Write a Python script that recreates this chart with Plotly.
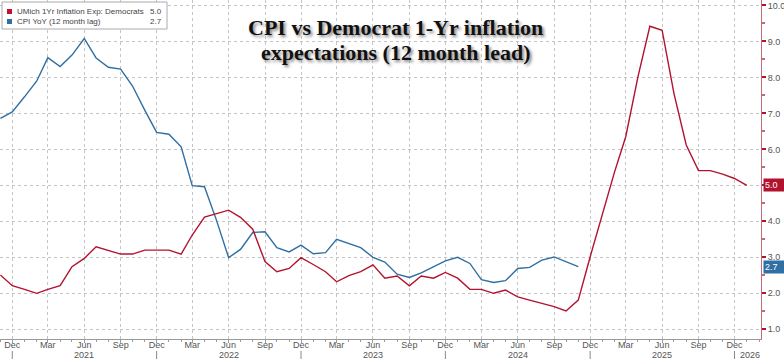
import pandas as pd
import plotly.graph_objects as go

# ---- data ----
red_dates = pd.date_range("2020-11-01", "2026-01-01", freq="MS")
red_vals = [2.51, 2.21,
            2.11, 2.00, 2.11, 2.21, 2.74, 2.97, 3.29, 3.20, 3.09, 3.09, 3.20, 3.20,
            3.20, 3.09, 3.62, 4.12, 4.22, 4.31, 4.11, 3.78, 2.88, 2.60, 2.69, 2.99,
            2.80, 2.60, 2.32, 2.49, 2.60, 2.79, 2.42, 2.48, 2.21, 2.48, 2.42, 2.58,
            2.42, 2.11, 2.11, 2.00, 2.09, 1.90, 1.81, 1.72, 1.63, 1.51, 1.81, 3.01,
            4.22, 5.38, 6.35, 8.02, 9.42, 9.31, 7.55, 6.12, 5.41, 5.41, 5.31, 5.19,
            5.00]
blue_dates = pd.date_range("2020-11-01", "2024-11-01", freq="MS")
blue_vals = [6.86, 7.04,
             7.46, 7.90, 8.55, 8.30, 8.62, 9.08, 8.54, 8.28, 8.23, 7.76, 7.09, 6.47,
             6.42, 6.07, 4.99, 4.96, 4.04, 2.99, 3.22, 3.69, 3.71, 3.27, 3.15, 3.34,
             3.10, 3.13, 3.50, 3.39, 3.27, 3.00, 2.87, 2.53, 2.44, 2.57, 2.74, 2.90,
             3.00, 2.83, 2.38, 2.30, 2.35, 2.69, 2.72, 2.92, 3.01, 2.87, 2.74]

red_name = "UMich 1Yr Inflation Exp: Democrats"
blue_name = "CPI YoY (12 month lag)"
red_last = "5.0"
blue_last = "2.7"

tick_dates = pd.date_range("2020-12-01", "2025-12-01", freq="3MS")
tick_text = [d.strftime("%b") for d in tick_dates]
year_labels = ["2021", "2022", "2023", "2024", "2025"]
year_label_dates = ["2021-06-01", "2022-06-01", "2023-06-01", "2024-06-01", "2025-06-01"]
year_sep_dates = ["2020-12-01", "2021-12-01", "2022-12-01", "2023-12-01", "2024-12-01", "2025-12-01"]
y_ticks = [1, 2, 3, 4, 5, 6, 7, 8, 9, 10]

RED = "#b3122e"
BLUE = "#2f6fa3"
GRID = "#c4c4c4"
TXT = "#555555"
PH = 339.0  # plot height in px
PW = 761.0  # plot width in px

fig = go.Figure()
fig.add_trace(go.Scatter(x=blue_dates, y=blue_vals, mode="lines",
                         line=dict(color=BLUE, width=1.4), name=blue_name))
fig.add_trace(go.Scatter(x=red_dates, y=red_vals, mode="lines",
                         line=dict(color=RED, width=1.4), name=red_name))

fig.update_layout(
    width=784, height=359,
    margin=dict(l=0, r=23, t=0, b=20),
    paper_bgcolor="white", plot_bgcolor="white",
    showlegend=False,
    font=dict(family="Liberation Sans, Arial", size=9, color=TXT),
)
fig.update_xaxes(
    type="date", range=["2020-10-31", "2026-02-06"],
    tickvals=tick_dates, ticktext=tick_text,
    showgrid=True, gridcolor=GRID, griddash="dot", gridwidth=1,
    showline=True, linecolor="#999999", linewidth=1,
    ticks="outside", ticklen=3, tickcolor="#999999",
    minor=dict(ticks="outside", dtick="M1", tick0="2020-12-01", ticklen=2,
               tickcolor="#999999", showgrid=False),
    tickfont=dict(size=9, color=TXT), zeroline=False,
    ticklabelstandoff=-6,
)
fig.update_yaxes(
    side="right", range=[0.73, 10.15],
    tickvals=y_ticks, ticktext=[f"{v:.1f}" for v in y_ticks],
    showgrid=True, gridcolor=GRID, griddash="dot", gridwidth=1,
    showline=True, linecolor="#c46a7a", linewidth=1,
    ticks="outside", ticklen=4, tickwidth=2, tickcolor="#b3122e",
    minor=dict(ticks="outside", dtick=0.5, ticklen=3, tickcolor="#c46a7a", showgrid=False),
    tickfont=dict(size=9, color=TXT), zeroline=False,
)

ann = []
# year labels
for lbl, d in zip(year_labels, year_label_dates):
    ann.append(dict(x=d, xref="x", y=(PH - 355) / PH, yref="paper", text=lbl, showarrow=False,
                    yanchor="middle", font=dict(size=9, color=TXT)))
ann.append(dict(x="2025-12-01", xref="x", y=(PH - 355) / PH, yref="paper", text="2026",
                showarrow=False, xanchor="left", xshift=3, yanchor="middle",
                font=dict(size=9, color=TXT)))
shapes = []
for d in year_sep_dates:
    shapes.append(dict(type="line", xref="x", yref="paper", x0=d, x1=d,
                       y0=(PH - 351) / PH, y1=(PH - 359) / PH,
                       line=dict(color="#888888", width=1)))

# last value tags
ann.append(dict(x=1, xref="paper", y=float(red_last), yref="y", text=red_last, showarrow=False,
                xanchor="left", yanchor="middle", xshift=2, bgcolor=RED,
                font=dict(size=9, color="white"), borderpad=1, width=20, align="left"))
ann.append(dict(x=1, xref="paper", y=blue_vals[-1], yref="y", text=blue_last, showarrow=False,
                xanchor="left", yanchor="middle", xshift=2, bgcolor=BLUE,
                font=dict(size=9, color="white"), borderpad=1, width=20, align="left"))

# legend box
shapes.append(dict(type="rect", xref="paper", yref="paper", x0=2 / PW, x1=167 / PW,
                   y0=1 - 29 / PH, y1=1 - 2 / PH, line=dict(color="#aaaaaa", width=1),
                   fillcolor="white", layer="above"))
shapes.append(dict(type="rect", xref="paper", yref="paper", x0=7 / PW, x1=12 / PW,
                   y0=1 - 14 / PH, y1=1 - 9 / PH, line=dict(width=0), fillcolor="#c8102e",
                   layer="above"))
shapes.append(dict(type="rect", xref="paper", yref="paper", x0=7 / PW, x1=12 / PW,
                   y0=1 - 24 / PH, y1=1 - 19 / PH, line=dict(width=0), fillcolor="#2f6fa3",
                   layer="above"))
leg_font = dict(size=8, color="#444444")
ann.append(dict(x=15 / PW, xref="paper", y=1 - 11.5 / PH, yref="paper", text=red_name,
                showarrow=False, xanchor="left", yanchor="middle", font=leg_font))
ann.append(dict(x=15 / PW, xref="paper", y=1 - 21.5 / PH, yref="paper", text=blue_name,
                showarrow=False, xanchor="left", yanchor="middle", font=leg_font))
ann.append(dict(x=164 / PW, xref="paper", y=1 - 11.5 / PH, yref="paper", text=red_last,
                showarrow=False, xanchor="right", yanchor="middle", font=leg_font))
ann.append(dict(x=164 / PW, xref="paper", y=1 - 21.5 / PH, yref="paper", text=blue_last,
                showarrow=False, xanchor="right", yanchor="middle", font=leg_font))

# title
title_font = dict(family="Liberation Serif, Times New Roman", size=22, color="#111111",
                  weight="bold", shadow="2px 2px 3px #888888")
ann.append(dict(x=395 / PW, xref="paper", y=1 - 27 / PH, yref="paper",
                text="CPI vs Democrat 1-Yr inflation", showarrow=False,
                yanchor="middle", font=title_font))
ann.append(dict(x=395 / PW, xref="paper", y=1 - 53 / PH, yref="paper",
                text="expectations (12 month lead)", showarrow=False,
                yanchor="middle", font=title_font))

fig.update_layout(annotations=ann, shapes=shapes)
fig.write_html("out.html", config={"displayModeBar": False},
               post_script="document.body.style.margin='0';document.body.style.overflow='hidden';")
